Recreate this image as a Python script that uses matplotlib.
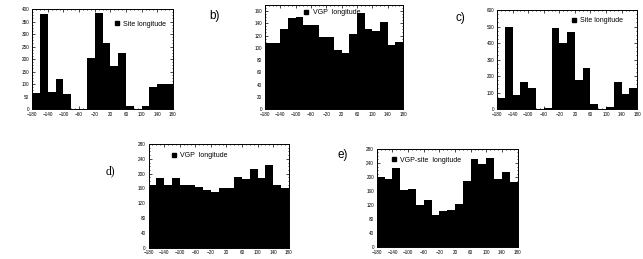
import matplotlib
matplotlib.use("Agg")
import matplotlib.pyplot as plt
from matplotlib.lines import Line2D
from matplotlib.ticker import MultipleLocator

plt.rcParams['font.family'] = ['Liberation Sans', 'DejaVu Sans']

# 20 degree longitude bins, left edges
bin_left = list(range(-180, 180, 20))
xtick_pos = list(range(-180, 181, 40))

site_a = [65, 380, 70, 120, 60, 0, 2, 205, 385, 265, 172, 225, 13, 0, 13, 87, 100, 100]
vgp_b = [108, 108, 130, 149, 151, 137, 137, 118, 117, 96, 91, 123, 156, 130, 127, 142, 104, 110]
site_c = [65, 500, 87, 167, 127, 0, 5, 490, 400, 470, 177, 248, 30, 0, 10, 165, 93, 130]
vgp_d = [169, 187, 169, 189, 169, 169, 165, 157, 150, 160, 160, 192, 186, 213, 189, 222, 168, 160]
diff_e = [199, 195, 225, 163, 165, 120, 135, 92, 103, 106, 123, 190, 250, 236, 255, 194, 215, 187]

panels = [
    # rect, values, ylim, ystep, legend text, legend anchor, panel label, label pos
    ([0.050, 0.579, 0.219, 0.386], site_a, 400, 50, "Site longitude", (0.55, 0.93), None, None),
    ([0.412, 0.579, 0.215, 0.402], vgp_b, 170, 20, "VGP  longitude", (0.25, 1.005), "b)", (0.325, 0.94)),
    ([0.773, 0.579, 0.218, 0.382], site_c, 600, 100, "Site longitude", (0.50, 0.98), "c)", (0.708, 0.93)),
    ([0.231, 0.044, 0.218, 0.400], vgp_d, 280, 40, "VGP  longitude", (0.13, 0.97), "d)", (0.165, 0.34)),
    ([0.586, 0.045, 0.219, 0.380], diff_e, 280, 40, "VGP-site  longitude", (0.07, 0.97), "e)", (0.525, 0.40)),
]

fig = plt.figure(figsize=(6.43, 2.59), dpi=100)

for rect, vals, ytop, ystep, leg, anchor, lab, labpos in panels:
    ax = fig.add_axes(rect)
    ax.bar(bin_left, vals, width=20, align='edge', color='black', linewidth=0)
    ax.set_xlim(-180, 180)
    ax.set_ylim(0, ytop)
    ax.set_xticks(xtick_pos)
    ax.xaxis.set_minor_locator(MultipleLocator(10))
    ax.yaxis.set_major_locator(MultipleLocator(ystep))
    ax.yaxis.set_minor_locator(MultipleLocator(ystep / 4))
    ax.tick_params(which='both', direction='in', top=True, right=True, width=0.5,
                   labelsize=3.3, pad=2)
    ax.tick_params(which='major', length=2)
    ax.tick_params(which='minor', length=1)
    for s in ax.spines.values():
        s.set_linewidth(0.7)
    h = Line2D([], [], marker='s', ls='', color='black', markersize=2.5)
    ax.legend([h], [leg], loc='upper left', bbox_to_anchor=anchor, frameon=False,
              fontsize=5, handlelength=0.6, handletextpad=0.6, borderpad=0.2)
    if lab:
        fam = ['Liberation Serif'] if lab == "d)" else ['Liberation Sans']
        fig.text(labpos[0], labpos[1], lab, fontsize=8.5, family=fam, ha='left', va='center')

fig.savefig("out.png", dpi=100)
